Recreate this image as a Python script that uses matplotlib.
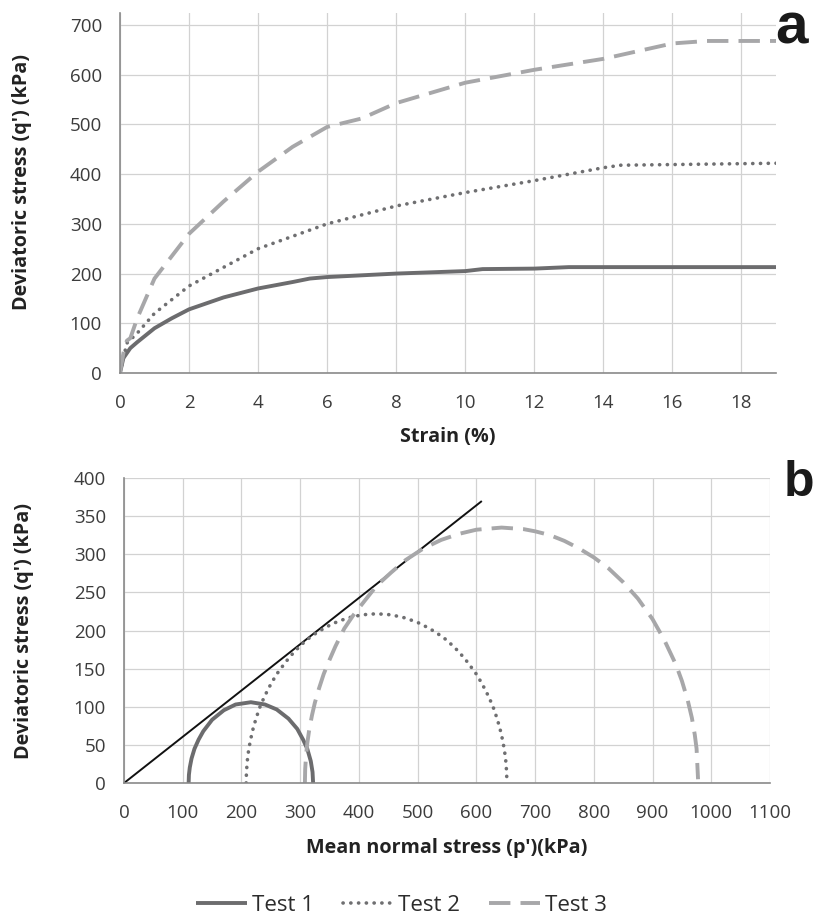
import numpy as np
import matplotlib
matplotlib.use('Agg')
import matplotlib.pyplot as plt
from matplotlib.lines import Line2D

plt.rcParams['font.family'] = ['Open Sans', 'DejaVu Sans']

# ---- panel a: stress-strain curves
strain_1 = [0, 0.1, 0.3, 0.5, 1, 1.5, 2, 3, 4, 5, 5.5, 6, 8, 10, 10.5, 12, 13, 19]
q_1 = [0, 30, 50, 62, 90, 110, 128, 152, 170, 183, 190, 193, 200, 205, 209, 210, 213, 213]

strain_2 = [0, 0.2, 0.5, 1, 2, 4, 6, 8, 10, 12, 14, 14.5, 19]
q_2 = [0, 60, 80, 120, 175, 250, 300, 336, 363, 387, 413, 418, 422]

strain_3 = [0, 0.1, 0.2, 0.3, 0.5, 1, 2, 3, 4, 5, 6, 7, 8, 10, 12, 14, 16, 17, 19]
q_3 = [0, 40, 65, 70, 110, 190, 280, 345, 405, 455, 495, 512, 543, 584, 610, 632, 663, 668, 668]

# ---- panel b: stress paths p'-q'
p_1 = [110, 110.5, 112, 115, 120, 127, 135, 150, 170, 190, 216, 240, 260, 280, 295, 305,
       312, 318, 321, 322]
pq_1 = [0, 10.8, 20.5, 32.3, 45, 57, 68, 83, 95.5, 103, 106, 103, 96.5, 84.5, 71, 56.8,
        45, 28.8, 14.5, 0]

p_2 = [208, 208.5, 210, 212, 215, 220, 225, 232, 240, 250, 260, 275, 290, 310, 330, 355, 380,
       405, 430, 455, 480, 505, 530, 550, 570, 585, 600, 610, 620, 628, 635, 640, 645, 648,
       650, 651.5, 652]
pq_2 = [0, 14.9, 29.7, 42, 55.3, 72, 85.2, 101, 114.8, 129.8, 142.8, 158.5, 172.3, 187.2,
        198.2, 209, 216.3, 220.6, 222, 220.6, 216.3, 209, 198.2, 187.2, 172.3, 158.5, 142.8,
        129.8, 114.8, 101, 85.2, 72, 55.3, 42, 29.7, 14.9, 0]

p_3 = [308, 308.5, 310, 312, 315, 320, 325, 332, 340, 350, 360, 375, 390, 410, 430, 455, 480,
       510, 540, 570, 600, 643, 680, 700, 725, 750, 775, 800, 825, 850, 875, 900, 920, 940,
       950, 960, 967, 972, 975, 977.5]
pq_3 = [0, 18.3, 36.6, 51.7, 68.1, 88.6, 105.4, 124, 142.9, 161.7, 179.3, 202.5, 219.6,
        239.2, 258.6, 276.2, 292.7, 307.7, 318.8, 326.7, 332.2, 335, 333, 330.1, 325.2,
        317.5, 307.6, 295.9, 281.6, 263.4, 242, 214.9, 187.6, 155.0, 134, 108.3, 85.5,
        63.1, 45, 5]

env_p = [0, 608]
env_q = [0, 369]

labels = ['Test 1', 'Test 2', 'Test 3']

c1, c2, c3 = '#6c6c6e', '#6f6f71', '#a7a7a9'
tick_col = '#3c3c3c'
grid_col = '#d2d2d2'
lab_col = '#222222'

sty1 = dict(color=c1, lw=2.8, ls='-', solid_capstyle='butt')
sty2 = dict(color=c2, lw=2.6, ls=(0, (0.05, 2.1)), dash_capstyle='round')
sty3 = dict(color=c3, lw=2.8, ls=(0, (5.5, 2.6)), dash_capstyle='butt')

fig = plt.figure(figsize=(8.16, 9.18), dpi=100)


def style_axes(ax):
    ax.grid(True, color=grid_col, lw=0.9)
    ax.set_axisbelow(True)
    for s in ['top', 'right']:
        ax.spines[s].set_visible(False)
    for s in ['left', 'bottom']:
        ax.spines[s].set_color('#8a8a8a')
        ax.spines[s].set_linewidth(1.2)
    ax.tick_params(length=0, labelsize=13.5, colors=tick_col)
    ax.tick_params(axis='x', pad=15)
    ax.tick_params(axis='y', pad=13)


# top panel
ax1 = fig.add_axes([0.147, 0.5937, 0.804, 0.392])
style_axes(ax1)
ax1.plot(strain_1, q_1, **sty1)
ax1.plot(strain_2, q_2, **sty2)
ax1.plot(strain_3, q_3, **sty3)
ax1.set_xlim(0, 19)
ax1.set_ylim(0, 724)
ax1.set_xticks(np.arange(0, 19, 2))
ax1.set_yticks(np.arange(0, 701, 100))
ax1.set_xlabel('Strain (%)', fontsize=14.2, fontweight='bold', color=lab_col, va='center')
ax1.xaxis.set_label_coords(0.5, -0.178)
ax1.set_ylabel("Deviatoric stress (q') (kPa)", fontsize=14.2, fontweight='bold',
               color=lab_col, va='center')
ax1.yaxis.set_label_coords(-0.15, 0.53)
fig.text(0.99, 0.953, 'a', fontsize=42, fontweight='bold', ha='right', va='baseline',
         color='#1a1a1a', family='Liberation Sans')

# bottom panel
ax2 = fig.add_axes([0.152, 0.147, 0.7916, 0.3323])
style_axes(ax2)
ax2.plot(env_p, env_q, color='#111111', lw=1.4)
ax2.plot(p_1, pq_1, **sty1)
ax2.plot(p_2, pq_2, **sty2)
ax2.plot(p_3, pq_3, **sty3)
ax2.set_xlim(0, 1100)
ax2.set_ylim(0, 400)
ax2.set_xticks(np.arange(0, 1101, 100))
ax2.set_yticks(np.arange(0, 401, 50))
ax2.set_xlabel("Mean normal stress (p')(kPa)", fontsize=14.2, fontweight='bold',
               color=lab_col, va='center')
ax2.xaxis.set_label_coords(0.5, -0.213)
ax2.set_ylabel("Deviatoric stress (q') (kPa)", fontsize=14.2, fontweight='bold',
               color=lab_col, va='center')
ax2.yaxis.set_label_coords(-0.155, 0.5)
fig.text(0.9975, 0.4597, 'b', fontsize=36, fontweight='bold', ha='right', va='baseline',
         color='#1a1a1a', family='Liberation Sans')

handles = [Line2D([], [], **sty1), Line2D([], [], **sty2), Line2D([], [], **sty3)]
fig.legend(handles, labels, loc='center', bbox_to_anchor=(0.492, 0.014), ncol=3,
           frameon=False, fontsize=16, handlelength=2.3, columnspacing=1.3,
           handletextpad=0.2, labelcolor='#2c2c2c', borderpad=0)

fig.savefig('out.png', dpi=100)
